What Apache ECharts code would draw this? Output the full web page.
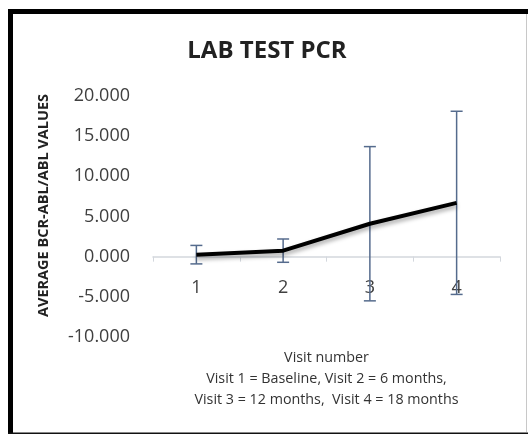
<!DOCTYPE html>
<html>
<head>
<meta charset="utf-8">
<script src="https://cdn.jsdelivr.net/npm/echarts@6/dist/echarts.min.js"></script>
<style>
  html, body { margin: 0; padding: 0; background: #fff; }
  #chart { width: 528px; height: 434px; }
</style>
</head>
<body>
<div id="chart"></div>
<script>
// Visit categories and mean BCR-ABL/ABL values per visit
const visits = ['1', '2', '3', '4'];
const meanValues = [0.25, 0.75, 4.1, 6.7];
// Error bar extents (mean ± SD)
const errLow = [-0.9, -0.7, -5.5, -4.7];
const errHigh = [1.4, 2.2, 13.7, 18.1];
// Y axis range
const yMin = -10, yMax = 20, yStep = 5;

const errData = visits.map((v, i) => [i, errLow[i], errHigh[i]]);
const font = '"Open Sans", "Liberation Sans", sans-serif';

const chart = echarts.init(document.getElementById('chart'));
chart.setOption({
  animation: false,
  backgroundColor: '#fff',
  title: {
    text: 'LAB TEST PCR',
    left: 262,
    textAlign: 'center',
    top: 34,
    textStyle: { fontFamily: font, fontSize: 24, fontWeight: 'bold', color: '#222' }
  },
  grid: { left: 153, right: 28, top: 96, bottom: 97, containLabel: false, outerBoundsMode: 'none' },
  xAxis: {
    type: 'category',
    data: visits,
    boundaryGap: true,
    axisLine: { onZero: true, lineStyle: { color: '#d3d7dd', width: 1.5 } },
    axisTick: { show: true, inside: false, length: 5, lineStyle: { color: '#d3d7dd' } },
    // labels sit below the zero line, above the plot's lower edge
    axisLabel: { margin: -58, fontFamily: font, fontSize: 18, color: '#404040' },
    name: 'Visit number\nVisit 1 = Baseline, Visit 2 = 6 months,\nVisit 3 = 12 months,  Visit 4 = 18 months',
    nameLocation: 'middle',
    nameGap: 10,
    nameTextStyle: { fontFamily: font, fontSize: 14.3, color: '#333', lineHeight: 21, align: 'center' }
  },
  yAxis: {
    type: 'value',
    min: yMin,
    max: yMax,
    interval: yStep,
    splitLine: { show: false },
    axisLine: { show: false },
    axisTick: { show: false },
    axisLabel: {
      margin: 23,
      fontFamily: font,
      fontSize: 18,
      color: '#404040',
      formatter: v => v.toFixed(3)
    },
    name: 'AVERAGE BCR-ABL/ABL VALUES',
    nameLocation: 'middle',
    nameGap: 102,
    nameTextStyle: { fontFamily: font, fontSize: 14.5, fontWeight: 'bold', color: '#222', padding: [0, 0, 0, 22] }
  },
  series: [
    {
      type: 'custom',
      z: 1,
      data: errData,
      renderItem: function (params, api) {
        const x = api.value(0);
        const lo = api.coord([x, api.value(1)]);
        const hi = api.coord([x, api.value(2)]);
        const cap = 6;
        const style = { stroke: '#556b8d', lineWidth: 1.5 };
        return {
          type: 'group',
          children: [
            { type: 'line', shape: { x1: hi[0], y1: hi[1], x2: lo[0], y2: lo[1] }, style },
            { type: 'line', shape: { x1: hi[0] - cap, y1: hi[1], x2: hi[0] + cap, y2: hi[1] }, style },
            { type: 'line', shape: { x1: lo[0] - cap, y1: lo[1], x2: lo[0] + cap, y2: lo[1] }, style }
          ]
        };
      }
    },
    {
      type: 'line',
      z: 3,
      data: meanValues,
      symbol: 'none',
      lineStyle: {
        color: '#000',
        width: 4,
        shadowColor: 'rgba(0,0,0,0.35)',
        shadowBlur: 4,
        shadowOffsetY: 3
      }
    }
  ],
  graphic: [
    { type: 'line', shape: { x1: 10.5, y1: 9, x2: 10.5, y2: 434 }, style: { stroke: '#000', lineWidth: 5 } },
    { type: 'line', shape: { x1: 8, y1: 11.5, x2: 528, y2: 11.5 }, style: { stroke: '#000', lineWidth: 5 } },
    { type: 'line', shape: { x1: 8, y1: 433.5, x2: 528, y2: 433.5 }, style: { stroke: '#111', lineWidth: 2 } },
    { type: 'line', shape: { x1: 526.5, y1: 14, x2: 526.5, y2: 432 }, style: { stroke: '#c8c8c8', lineWidth: 1 } }
  ]
});
</script>
</body>
</html>
